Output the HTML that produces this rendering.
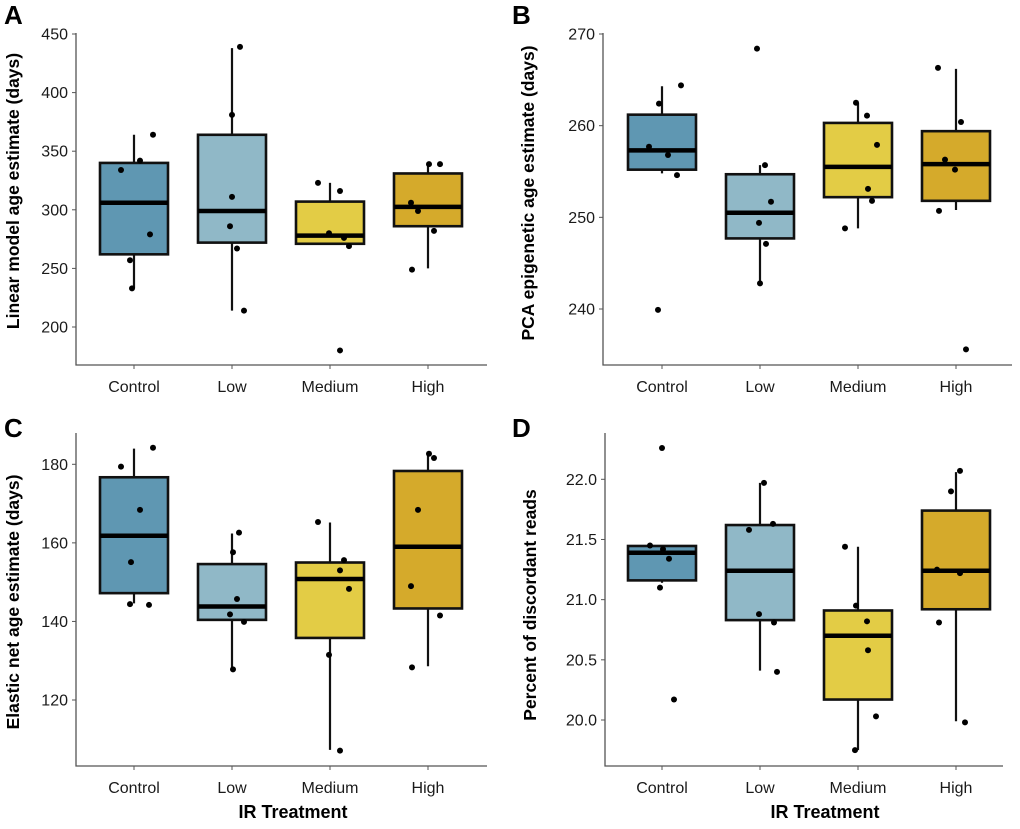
<!DOCTYPE html>
<html><head><meta charset="utf-8"><style>
body{margin:0;background:#fff;}
svg text{font-family:"Liberation Sans",sans-serif;}
</style></head><body>
<svg id="fig" width="1020" height="824" xmlns="http://www.w3.org/2000/svg"></svg>
<script>
const categories = ["Control","Low","Medium","High"];
const colors = ["#5f97b2","#90b8c7","#e3cc45","#d5aa2b"];
// Panel A
const aQ1=[262,272,271,286], aMed=[306,299,278,302.5], aQ3=[340,364,307,331], aLo=[233,214,271,250], aHi=[364,438,323,340];
const aPts=[[334,342,364,279,257,233],[439,381,311,286,267,214],[323,316,280,276,269,180],[339,339,306,299,282,249]];
const aTicks=[200,250,300,350,400,450];
// Panel B
const bQ1=[255.2,247.7,252.2,251.8], bMed=[257.3,250.5,255.5,255.8], bQ3=[261.2,254.7,260.3,259.4], bLo=[254.8,242.8,248.8,250.8], bHi=[264.3,255.7,262.5,266.2];
const bPts=[[262.4,264.4,257.7,256.8,254.6,239.9],[268.4,255.7,251.7,249.4,247.1,242.8],[262.5,261.1,257.9,253.1,251.8,248.8],[266.3,260.4,256.3,255.2,250.7,235.6]];
const bTicks=[240,250,260,270];
// Panel C
const cQ1=[147.2,140.4,135.8,143.3], cMed=[161.8,143.8,150.8,159], cQ3=[176.7,154.6,155,178.3], cLo=[144.6,127.8,107.3,128.6], cHi=[184,162.4,165.2,183.1];
const cPts=[[179.4,184.2,168.4,155.1,144.4,144.2],[162.6,157.6,145.7,141.8,139.9,127.8],[165.3,155.6,153,148.3,131.5,107.1],[182.7,181.6,168.4,149,141.5,128.3]];
const cTicks=[120,140,160,180];
// Panel D
const dQ1=[21.16,20.83,20.17,20.92], dMed=[21.39,21.24,20.70,21.24], dQ3=[21.446,21.62,20.91,21.74], dLo=[21.14,20.41,19.75,19.99], dHi=[21.446,21.97,21.44,22.06];
const dPts=[[21.45,21.42,21.34,21.10,20.17,22.26],[21.97,21.58,21.63,20.88,20.81,20.40],[21.44,20.95,20.82,20.58,20.03,19.75],[22.07,21.90,21.25,21.22,20.81,19.98]];
const dTicks=["20.0","20.5","21.0","21.5","22.0"];
// jitter offsets (px) for points
const aJit=[[-13,6,19,16,-4,-2],[8,0,0,-2,5,12],[-12,10,-1,14,19,10],[1,12,-17,-10,6,-16]];
const bJit=[[-3,19,-13,6,15,-4],[-3,5,11,-1,6,0],[-2,9,19,10,14,-13],[-18,5,-11,-1,-17,10]];
const cJit=[[-13,19,6,-3,-4,15],[7,1,5,-2,12,1],[-12,14,10,19,-1,10],[1,6,-10,-17,12,-16]];
const dJit=[[-12,1,7,-2,12,0],[4,-11,13,-1,14,17],[-13,-2,9,10,18,-3],[4,-5,-19,4,-17,9]];

const NS="http://www.w3.org/2000/svg";
const svg=document.getElementById('fig');
function mk(tag,attrs,parent,text){const e=document.createElementNS(NS,tag);for(const k in attrs)e.setAttribute(k,attrs[k]);if(text!==undefined)e.textContent=text;parent.appendChild(e);return e;}

function panel(p){
  const g=mk('g',{},svg);
  
  
  const y=v=>p.y0+(p.v0-v)*(p.y1-p.y0)/(p.v0-p.v1);
  const x=i=>p.cx0+i*p.step;
  const L=mk('text',{x:p.lx,y:p.ly,'font-size':26,'font-weight':'bold',fill:'#000'},g,p.letter);
  
  
  const ax=mk('path',{d:`M${p.ax},${p.top}V${p.bot}H${p.axEnd}`,stroke:'#555',fill:'none','stroke-width':1.3},g);
  
  
  p.ticks.forEach(t=>{
    const ty=y(parseFloat(t));
    mk('line',{x1:p.ax-4,x2:p.ax,y1:ty,y2:ty,stroke:'#555'},g);
    const tt=mk('text',{x:p.ax-8,y:ty+5.5,'font-size':16,'text-anchor':'end',fill:'#1a1a1a'},g,t);
    
    
  });
  categories.forEach((c,i)=>{
    mk('line',{x1:x(i),x2:x(i),y1:p.bot,y2:p.bot+4,stroke:'#555'},g);
    const tl=mk('text',{x:x(i),y:p.bot+27,'font-size':16,'text-anchor':'middle',fill:'#1a1a1a'},g,c);
    
    
    const bw=68, cx=x(i);
    const wh=mk('line',{x1:cx,x2:cx,y1:y(p.hi[i]),y2:y(p.lo[i]),stroke:'#111','stroke-width':2.2},g);
    
    
    const bx=mk('rect',{x:cx-bw/2,y:y(p.q3[i]),width:bw,height:y(p.q1[i])-y(p.q3[i]),fill:colors[i],stroke:'#111','stroke-width':2.6},g);
    
    
    const md=mk('line',{x1:cx-bw/2,x2:cx+bw/2,y1:y(p.med[i]),y2:y(p.med[i]),stroke:'#000','stroke-width':4.5},g);
    
    
    p.pts[i].forEach((v,j)=>{
      const d=mk('circle',{cx:cx+p.jit[i][j],cy:y(v),r:3,fill:'#000'},g);
      
      
    });
  });
  const yt=mk('text',{x:0,y:0,'font-size':17.5,'font-weight':'bold','text-anchor':'middle',fill:'#000',transform:`translate(${p.ytx},${p.yty}) rotate(-90)`},g,p.ytitle);
  
  
  if(p.xtitle){
    const xt=mk('text',{x:p.xtx,y:818,'font-size':18,'font-weight':'bold','text-anchor':'middle',fill:'#000'},g,'IR Treatment');
    
    
  }
}
panel({letter:'A',lx:4,ly:24,ax:76,top:33,bot:365,axEnd:487,cx0:134,step:98,v0:450,y0:34,v1:200,y1:327,ticks:aTicks,q1:aQ1,med:aMed,q3:aQ3,lo:aLo,hi:aHi,pts:aPts,jit:aJit,ytitle:'Linear model age estimate (days)',ytx:19,yty:191});
panel({letter:'B',lx:512,ly:24,ax:603,top:33,bot:365,axEnd:1012,cx0:662,step:98,v0:270,y0:34,v1:240,y1:309,ticks:bTicks,q1:bQ1,med:bMed,q3:bQ3,lo:bLo,hi:bHi,pts:bPts,jit:bJit,ytitle:'PCA epigenetic age estimate (days)',ytx:534,yty:193});
panel({letter:'C',lx:4,ly:437,ax:76,top:433,bot:766,axEnd:487,cx0:134,step:98,v0:180,y0:464.3,v1:120,y1:700,ticks:cTicks,q1:cQ1,med:cMed,q3:cQ3,lo:cLo,hi:cHi,pts:cPts,jit:cJit,ytitle:'Elastic net age estimate (days)',ytx:19,yty:602,xtitle:true,xtx:293});
panel({letter:'D',lx:512,ly:437,ax:605,top:433,bot:766,axEnd:1003,cx0:662,step:98,v0:22,y0:479.3,v1:20,y1:720,ticks:dTicks,q1:dQ1,med:dMed,q3:dQ3,lo:dLo,hi:dHi,pts:dPts,jit:dJit,ytitle:'Percent of discordant reads',ytx:536,yty:605,xtitle:true,xtx:825});
</script>
</body></html>
